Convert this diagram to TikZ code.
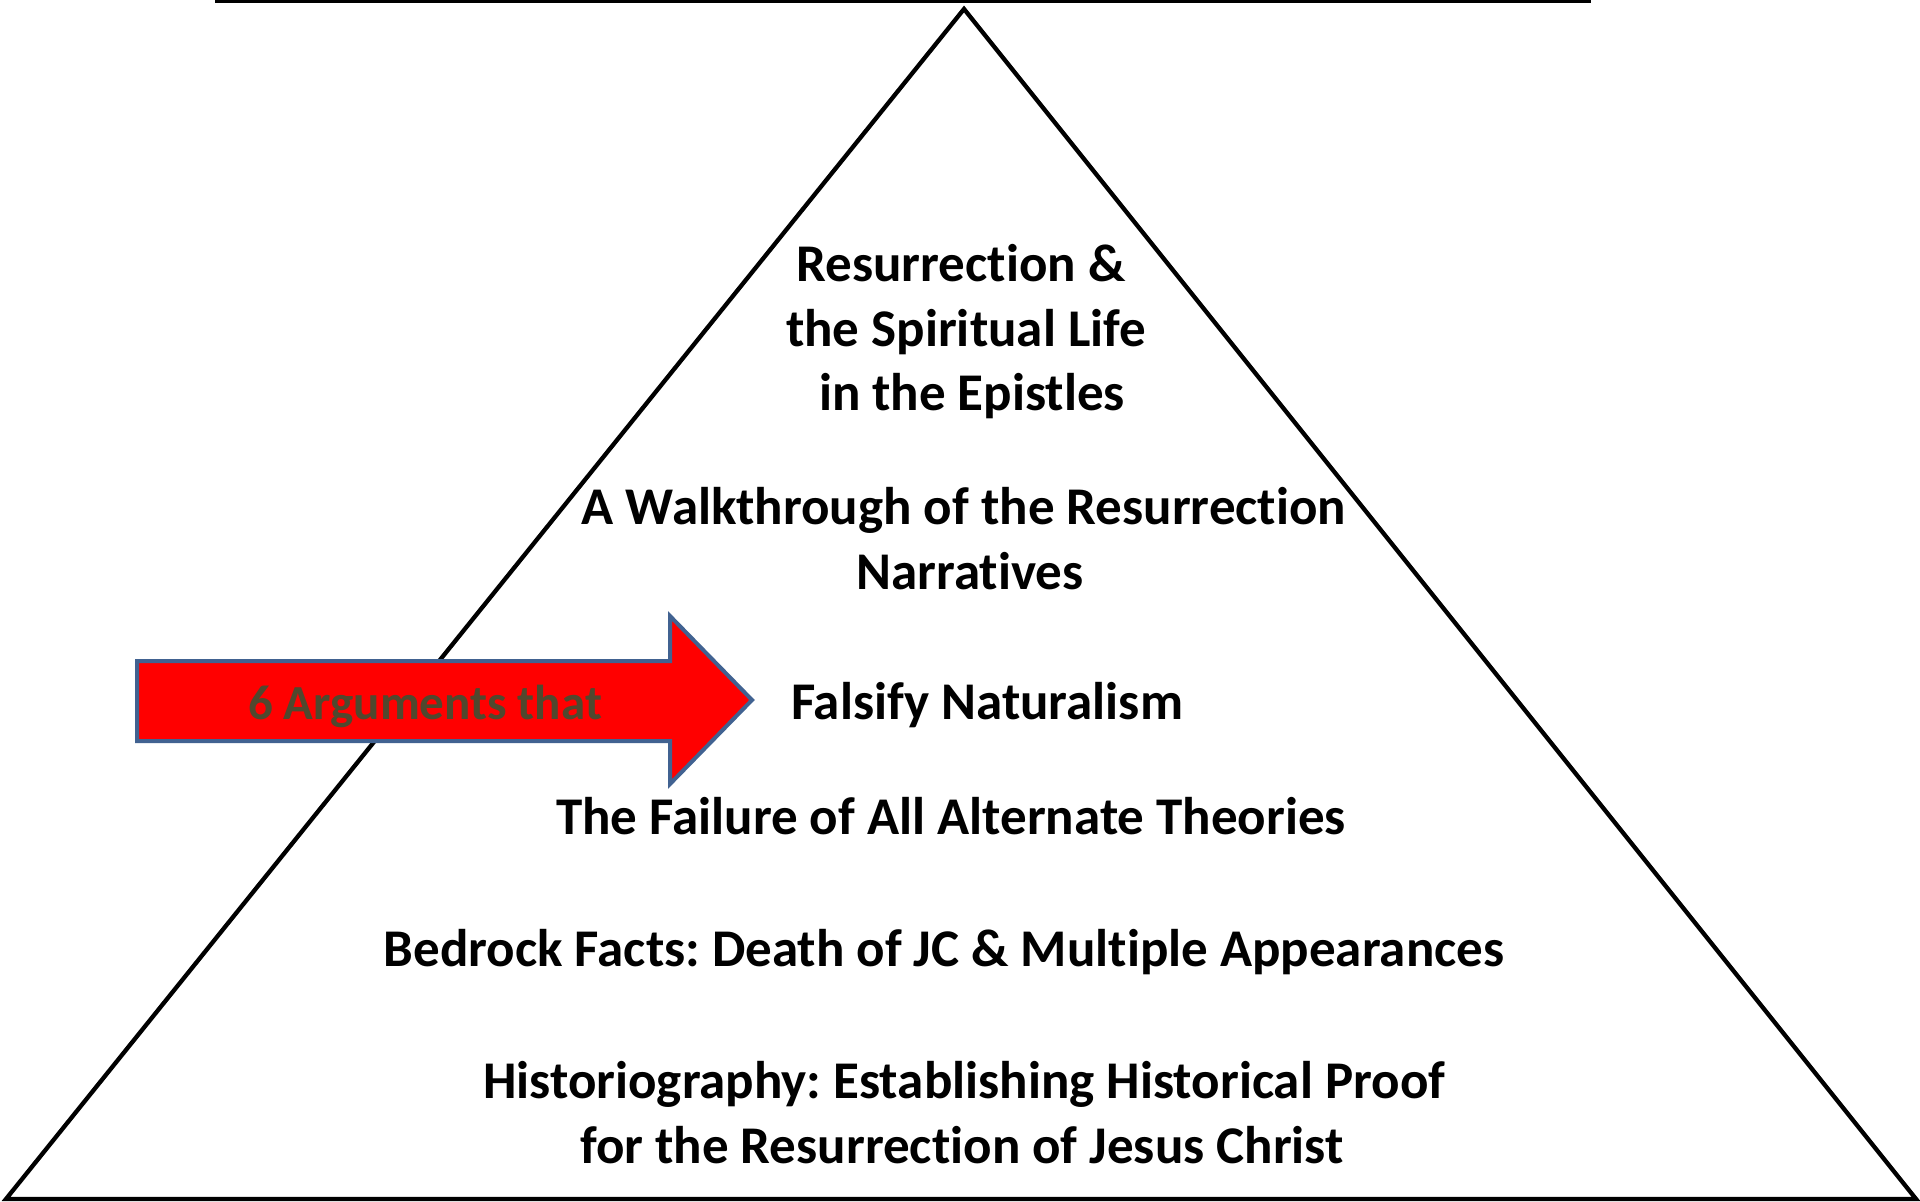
\documentclass[tikz,border=0pt]{standalone}
\usepackage{fontspec}
\setmainfont{Carlito}[Ligatures=NoCommon]
\frenchspacing
\definecolor{arrowedge}{RGB}{65,98,145}
\definecolor{arrowtext}{RGB}{80,72,46}
\tikzset{
  lbl/.style={anchor=base, inner sep=0pt, font=\bfseries\fontsize{53}{64}\selectfont, text=black},
  arrtxt/.style={lbl, font=\bfseries\fontsize{49}{60}\selectfont, text=arrowtext},
  tri/.style={draw=black, line width=4.3pt, line join=miter},
  arrowbox/.style={fill=red, draw=arrowedge, line width=4pt, line join=miter}
}
\begin{document}
\begin{tikzpicture}[x=1pt,y=-1pt]
\useasboundingbox (0,0) rectangle (1920,1202);
% top rule
\coordinate (tl) at (215,1.5);
\coordinate (tr) at (1591,1.5);
\draw[line width=2.5pt] (tl) -- (tr);
% pyramid
\coordinate (apex) at (964,9);
\coordinate (bl) at (6,1199);
\coordinate (br) at (1916,1199);
\draw[tri] (bl) -- (apex) -- (br) -- cycle;
% arrow
\draw[arrowbox] (137,661) -- (670,661) -- (670,616) -- (752,700) -- (670,784) -- (670,741) -- (137,741) -- cycle;
\node[arrtxt] (args) at (425,719) {6 Arguments that};
% texts
\node[lbl] (r1) at (961,281) {Resurrection \&};
\node[lbl] (r2) at (966,346) {the Spiritual Life};
\node[lbl] (r3) at (972,410) {in the Epistles};
\node[lbl] (w1) at (964,524) {A Walkthrough of the Resurrection};
\node[lbl] (w2) at (970,589) {Narratives};
\node[lbl] (fn) at (987,719) {Falsify Naturalism};
\node[lbl] (fa) at (951,834) {The Failure of All Alternate Theories};
\node[lbl] (bf) at (944,966) {Bedrock Facts: Death of JC \& Multiple Appearances};
\node[lbl] (h1) at (964,1098) {Historiography: Establishing Historical Proof};
\node[lbl] (h2) at (962,1163) {for the Resurrection of Jesus Christ};
\end{tikzpicture}
\end{document}
